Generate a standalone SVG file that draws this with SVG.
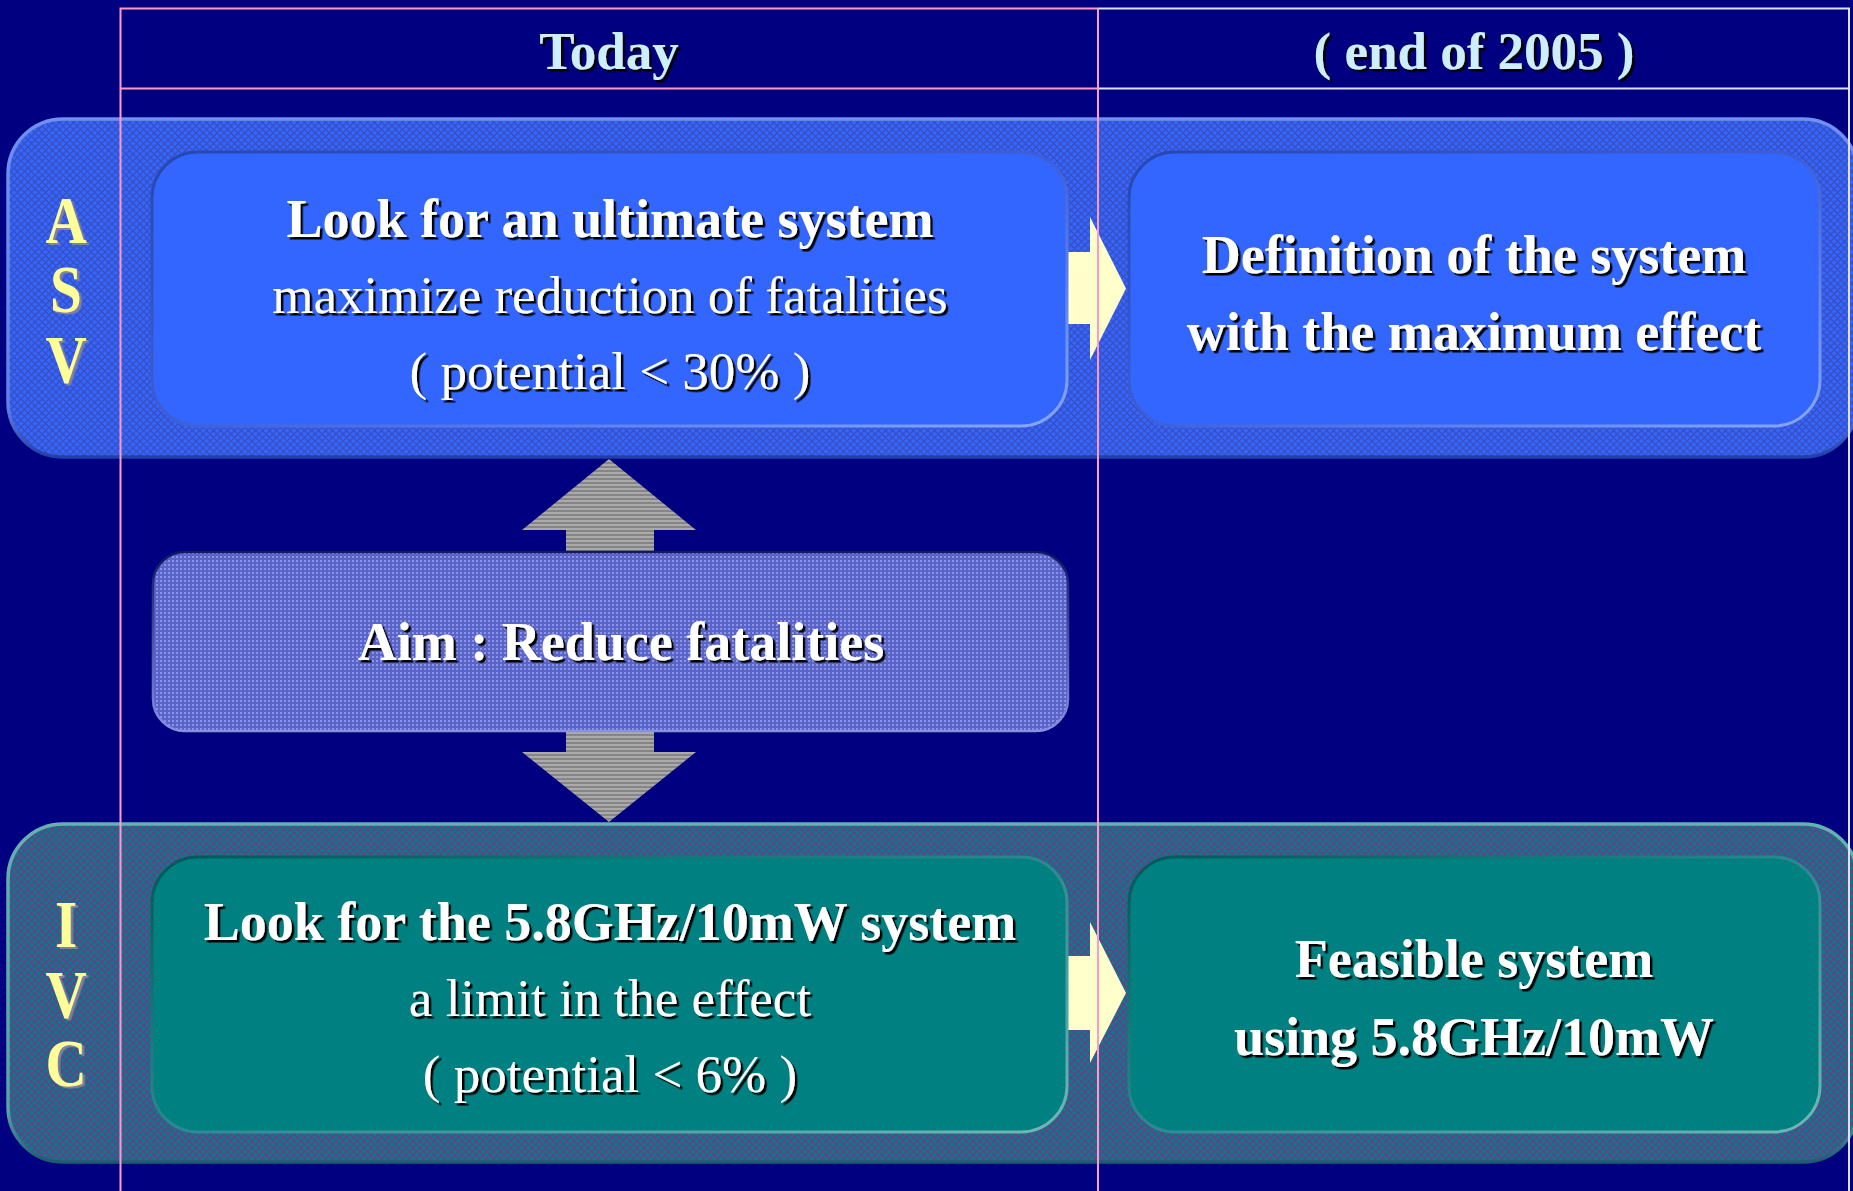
<svg xmlns="http://www.w3.org/2000/svg" width="1853" height="1191" viewBox="0 0 1853 1191">
<defs>
<style>
.t{font-family:"Liberation Serif","Times New Roman",serif;text-anchor:middle;fill:#ffffff}
.b{font-weight:bold}
.sh{filter:url(#shadow)}
.hdr{fill:#cceeff;font-weight:bold;font-size:53px}
.big{font-size:54px}
.reg{font-size:53px;font-weight:normal}
.lbl{font-family:"Liberation Serif","Times New Roman",serif;text-anchor:middle;font-weight:bold;font-size:68px;fill:#ffff99;filter:url(#lshadow)}
.pink{stroke:#ff99cc;stroke-width:2;fill:none}
.wl{stroke:#e0e0ff;stroke-width:2;fill:none}
</style>
<filter id="shadow" x="-5%" y="-20%" width="115%" height="150%">
<feDropShadow dx="2.5" dy="2.5" stdDeviation="0.4" flood-color="#000000" flood-opacity="1"/>
</filter>
<filter id="lshadow" x="-20%" y="-20%" width="150%" height="150%">
<feDropShadow dx="3" dy="2" stdDeviation="0.4" flood-color="#8080a0" flood-opacity="1"/>
</filter>
<pattern id="asvPat" width="7" height="7" patternUnits="userSpaceOnUse">
<rect width="7" height="7" fill="#3366ff"/>
<path d="M0 0L7 7M7 0L0 7" stroke="#3a4fbf" stroke-width="1.3"/>
</pattern>
<pattern id="ivcPat" width="7" height="7" patternUnits="userSpaceOnUse">
<rect width="7" height="7" fill="#0a7a86"/>
<path d="M0 0L7 7M7 0L0 7" stroke="#6a3d8c" stroke-width="1.3"/>
</pattern>
<pattern id="aimPat" width="4" height="4" patternUnits="userSpaceOnUse">
<rect width="4" height="4" fill="#5a63c8"/>
<rect width="2" height="2" fill="#8a94ea"/>
</pattern>
<pattern id="grayPat" width="4" height="4" patternUnits="userSpaceOnUse">
<rect width="4" height="4" fill="#858585"/>
<rect width="4" height="2" fill="#aaaaaa"/>
</pattern>
<linearGradient id="asvBandStroke" x1="0" y1="0" x2="0" y2="1">
<stop offset="0" stop-color="#7090f0"/>
<stop offset="0.85" stop-color="#6080e8"/>
<stop offset="1" stop-color="#2040a8"/>
</linearGradient>
<linearGradient id="ivcBandStroke" x1="0" y1="0" x2="0" y2="1">
<stop offset="0" stop-color="#66b0b0"/>
<stop offset="0.85" stop-color="#5aa0a8"/>
<stop offset="1" stop-color="#1e5a70"/>
</linearGradient>
<linearGradient id="asvNodeStroke" x1="0" y1="0" x2="1" y2="1">
<stop offset="0" stop-color="#2448b0"/>
<stop offset="0.5" stop-color="#3c5ed8"/>
<stop offset="1" stop-color="#88a8ff"/>
</linearGradient>
<linearGradient id="ivcNodeStroke" x1="0" y1="0" x2="1" y2="1">
<stop offset="0" stop-color="#005858"/>
<stop offset="0.5" stop-color="#2a8a90"/>
<stop offset="1" stop-color="#70b8b8"/>
</linearGradient>
<linearGradient id="aimStroke" x1="0" y1="0" x2="0" y2="1">
<stop offset="0" stop-color="#101860"/>
<stop offset="1" stop-color="#8890e0"/>
</linearGradient>
</defs>
<rect width="1853" height="1191" fill="#000080"/>

<g id="band-asv">
<rect x="8" y="119" width="1850" height="338" rx="55" ry="55" fill="url(#asvPat)" stroke="url(#asvBandStroke)" stroke-width="3.5"/>
</g>
<g id="band-ivc">
<rect x="8" y="824" width="1850" height="338" rx="55" ry="55" fill="url(#ivcPat)" stroke="url(#ivcBandStroke)" stroke-width="3.5"/>
</g>

<g id="connectors">
<polygon id="arrow-asv" points="1060,252 1090,252 1090,217 1126,288.5 1090,360 1090,324 1060,324" fill="#ffffcc"/>
<polygon id="arrow-ivc" points="1060,956 1090,956 1090,922 1126,993 1090,1063 1090,1030 1060,1030" fill="#ffffcc"/>
<polygon id="arrow-aim" points="609,459 696,530 654,530 654,752 696,752 609,822 522,752 566,752 566,530 522,530" fill="url(#grayPat)"/>
</g>

<g id="label-asv">
<g transform="translate(66 0) scale(0.84 1)">
<text class="lbl" x="0" y="243">A</text>
<text class="lbl" x="0" y="312">S</text>
<text class="lbl" x="0" y="382">V</text>
</g>
</g>
<g id="label-ivc">
<g transform="translate(66 0) scale(0.84 1)">
<text class="lbl" x="0" y="947">I</text>
<text class="lbl" x="0" y="1017">V</text>
<text class="lbl" x="0" y="1086">C</text>
</g>
</g>

<g id="node-asv-today">
<rect x="152" y="152" width="915" height="274" rx="46" ry="46" fill="#3366ff" stroke="url(#asvNodeStroke)" stroke-width="3"/>
<text class="t b big sh" x="610" y="237">Look for an ultimate system</text>
<text class="t reg sh" x="610" y="313">maximize reduction of fatalities</text>
<text class="t reg sh" x="610" y="389">( potential &lt; 30% )</text>
</g>
<g id="node-asv-2005">
<rect x="1129" y="152" width="691" height="274" rx="46" ry="46" fill="#3366ff" stroke="url(#asvNodeStroke)" stroke-width="3"/>
<text class="t b big sh" x="1474" y="273">Definition of the system</text>
<text class="t b big sh" x="1474" y="350">with the maximum effect</text>
</g>

<g id="node-aim">
<rect x="153" y="552" width="915" height="179" rx="32" ry="32" fill="url(#aimPat)" stroke="url(#aimStroke)" stroke-width="2.5"/>
<text class="t b big sh" x="621" y="660">Aim : Reduce fatalities</text>
</g>

<g id="node-ivc-today">
<rect x="152" y="857" width="915" height="275" rx="46" ry="46" fill="#008080" stroke="url(#ivcNodeStroke)" stroke-width="3"/>
<text class="t b big sh" x="610" y="940">Look for the 5.8GHz/10mW system</text>
<text class="t reg sh" x="610" y="1016">a limit in the effect</text>
<text class="t reg sh" x="610" y="1092">( potential &lt; 6% )</text>
</g>
<g id="node-ivc-2005">
<rect x="1129" y="857" width="691" height="275" rx="46" ry="46" fill="#008080" stroke="url(#ivcNodeStroke)" stroke-width="3"/>
<text class="t b big sh" x="1474" y="977">Feasible system</text>
<text class="t b big sh" x="1474" y="1055">using 5.8GHz/10mW</text>
</g>

<g id="grid">
<path class="wl" d="M1098 8.5H1849V1191M1098 88.5H1849"/>
<path class="pink" d="M120.5 1191V8.5H1098M120.5 88.5H1098M1098 8.5V1191"/>
</g>

<g id="header-today">
<text class="t hdr sh" x="609" y="69">Today</text>
</g>
<g id="header-2005">
<text class="t hdr sh" x="1474" y="69">( end of 2005 )</text>
</g>
</svg>
